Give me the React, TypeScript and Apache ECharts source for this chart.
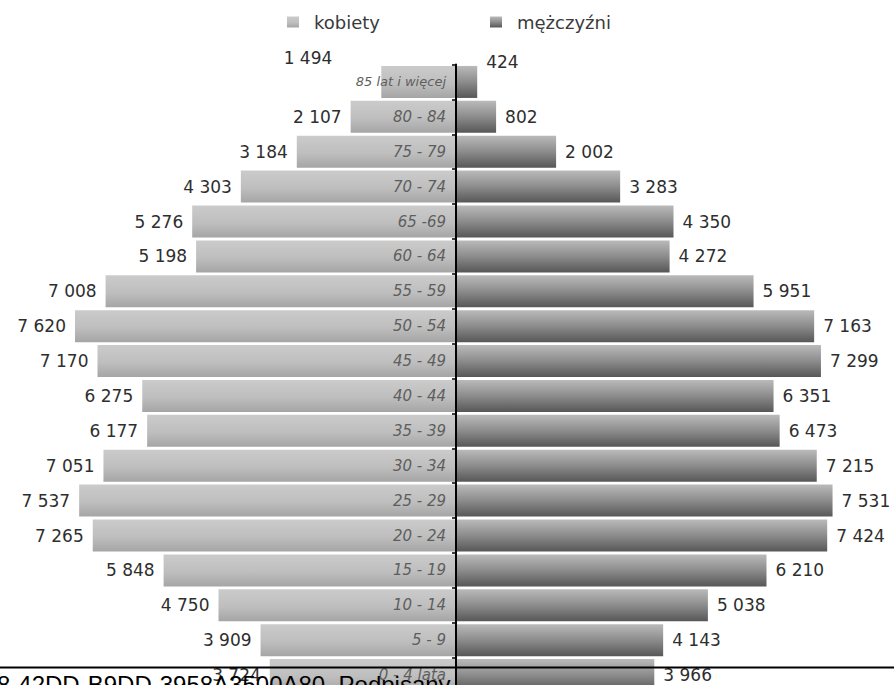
import React, { useEffect, useRef } from "react";
import * as echarts from "echarts";

const categories = [
  "85 lat i więcej", "80 - 84", "75 - 79", "70 - 74", "65 -69", "60 - 64",
  "55 - 59", "50 - 54", "45 - 49", "40 - 44", "35 - 39", "30 - 34",
  "25 - 29", "20 - 24", "15 - 19", "10 - 14", "5 - 9", "0 - 4 lata",
];
const kobiety = [
  1494, 2107, 3184, 4303, 5276, 5198, 7008, 7620, 7170, 6275, 6177, 7051,
  7537, 7265, 5848, 4750, 3909, 3724,
];
const mezczyzni = [
  424, 802, 2002, 3283, 4350, 4272, 5951, 7163, 7299, 6351, 6473, 7215,
  7531, 7424, 6210, 5038, 4143, 3966,
];
const seriesNames = ["kobiety", "mężczyźni"];
const stampText = "8-42DD-B9DD-3958A3500A80, Podpisany";

const fmt = (n: number) =>
  String(Math.abs(n)).replace(/\B(?=(\d{3})+(?!\d))/g, " ");

export default function App() {
  const ref = useRef<HTMLDivElement>(null);
  useEffect(() => {
    if (!ref.current) return;
    const chart = echarts.init(ref.current, null, { renderer: "svg" });
    const femaleColor = new echarts.graphic.LinearGradient(0, 0, 0, 1, [
      { offset: 0, color: "#cbcbcb" },
      { offset: 0.55, color: "#bebebe" },
      { offset: 1, color: "#a5a5a5" },
    ]);
    const maleColor = new echarts.graphic.LinearGradient(0, 0, 0, 1, [
      { offset: 0, color: "#bababa" },
      { offset: 0.5, color: "#8c8c8c" },
      { offset: 1, color: "#575757" },
    ]);
    const labelFont = {
      fontFamily: "DejaVu Sans",
      fontSize: 17,
      color: "#2e2e2e",
    };
    const legendText = {
      fontFamily: "DejaVu Sans",
      fontSize: 18,
      color: "#3a3a3a",
      padding: [0, 0, 0, 10],
    };
    chart.setOption({
      animation: false,
      backgroundColor: "#ffffff",
      legend: [
        {
          data: [seriesNames[0]],
          left: 282,
          top: 8,
          icon: "rect",
          itemWidth: 12,
          itemHeight: 11,
          textStyle: legendText,
        },
        {
          data: [seriesNames[1]],
          left: 485,
          top: 8,
          icon: "rect",
          itemWidth: 12,
          itemHeight: 11,
          textStyle: legendText,
        },
      ],
      grid: {
        left: 56,
        width: 800,
        top: 64.5,
        height: 628,
        containLabel: false,
        outerBoundsMode: "none",
      },
      xAxis: {
        type: "value",
        min: -8000,
        max: 8000,
        show: false,
      },
      yAxis: {
        type: "category",
        inverse: true,
        position: "left",
        offset: -400,
        data: categories.map((c, i) =>
          i === 0 ? { value: c, textStyle: { fontSize: 13 } } : c
        ),
        axisLine: { onZero: false, lineStyle: { color: "#000", width: 2 } },
        axisTick: { show: true, length: 4, lineStyle: { color: "#000", width: 1.5 } },
        axisLabel: {
          margin: 10,
          fontFamily: "DejaVu Sans",
          fontStyle: "italic",
          fontSize: 15,
          color: "#5e5e5e",
        },
        splitLine: { show: false },
        z: 10,
      },
      series: [
        {
          name: seriesNames[0],
          type: "bar",
          barWidth: 32,
          barGap: "-100%",
          itemStyle: { color: femaleColor },
          label: {
            show: true,
            position: "left",
            distance: 9,
            formatter: (p: any) => fmt(p.value),
            ...labelFont,
          },
          data: kobiety.map((v, i) =>
            i === 0
              ? { value: -v, label: { offset: [-40, -24] } }
              : -v
          ),
        },
        {
          name: seriesNames[1],
          type: "bar",
          barWidth: 32,
          barGap: "-100%",
          itemStyle: { color: maleColor },
          label: {
            show: true,
            position: "right",
            distance: 9,
            formatter: (p: any) => fmt(p.value),
            ...labelFont,
          },
          data: mezczyzni.map((v, i) =>
            i === 0 ? { value: v, label: { offset: [0, -20] } } : v
          ),
        },
      ],
      graphic: [
        {
          type: "line",
          z: 100,
          shape: { x1: 0, y1: 667.5, x2: 894, y2: 667.5 },
          style: { stroke: "#000", lineWidth: 2 },
        },
        {
          type: "text",
          z: 100,
          x: -3,
          y: 672,
          style: {
            text: stampText,
            font: '24px "Liberation Sans"',
            fill: "#000",
            textVerticalAlign: "top",
          },
        },
      ],
    });
    return () => chart.dispose();
  }, []);
  return (
    <div
      ref={ref}
      style={{ position: "fixed", left: 0, top: 0, width: 894, height: 700 }}
    />
  );
}
